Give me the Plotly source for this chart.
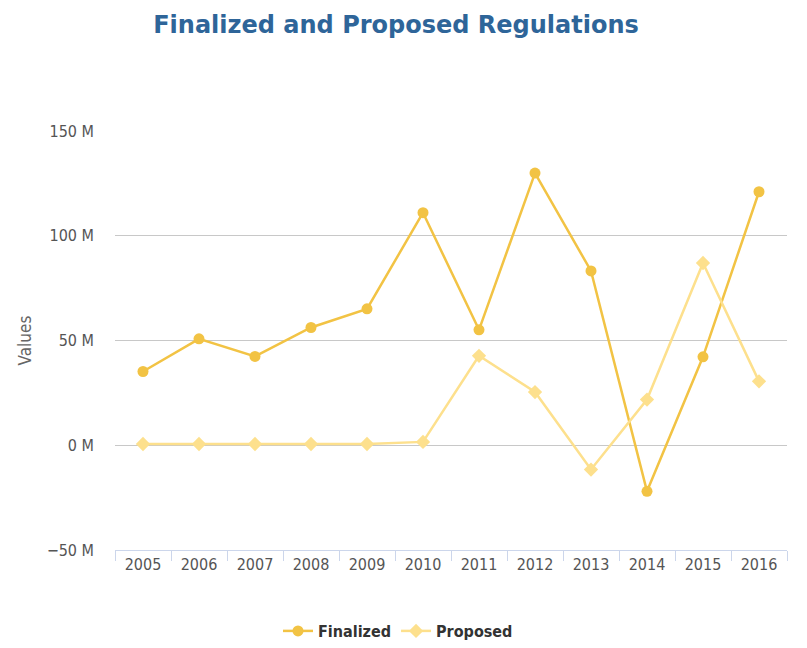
import plotly.graph_objects as go

years = ["2005", "2006", "2007", "2008", "2009", "2010", "2011", "2012", "2013", "2014", "2015", "2016"]
finalized = [35.2, 50.8, 42.4, 56.2, 65.1, 111.0, 55.1, 129.9, 83.2, -22.0, 42.2, 121.0]
proposed = [0.6, 0.6, 0.6, 0.6, 0.6, 1.6, 42.7, 25.4, -11.6, 21.8, 87.0, 30.5]
y_ticks = [-50, 0, 50, 100, 150]
y_tick_labels = ["−50 M", "0 M", "50 M", "100 M", "150 M"]

FIN_COLOR = "#f2c344"
PRO_COLOR = "#fde08d"
LABEL_FONT = "DejaVu Sans Condensed, Liberation Sans Narrow, Roboto Condensed, sans-serif"

# page body has an 8px margin; compensate so plot area lands at the reference position
OFF = 8
W, H = 807, 648

fig = go.Figure()
fig.add_trace(go.Scatter(
    x=years, y=finalized, name="Finalized", mode="lines+markers",
    line=dict(color=FIN_COLOR, width=2.5),
    marker=dict(symbol="circle", size=11, color=FIN_COLOR),
))
fig.add_trace(go.Scatter(
    x=years, y=proposed, name="Proposed", mode="lines+markers",
    line=dict(color=PRO_COLOR, width=2.5),
    marker=dict(symbol="diamond", size=11, color=PRO_COLOR),
))

fig.update_layout(
    width=W, height=H,
    margin=dict(l=115 - OFF, r=W + OFF - 787, t=131 - OFF, b=H + OFF - 550),
    paper_bgcolor="white", plot_bgcolor="white",
    title=dict(
        text="<b>Finalized and Proposed Regulations</b>",
        font=dict(family="DejaVu Sans, sans-serif", size=24, color="#2e6599"),
        x=(396 - OFF) / W, xref="container", xanchor="center",
        y=1 - 17 / H, yref="container", yanchor="middle",
    ),
    showlegend=True,
    legend=dict(
        orientation="h", x=(398 - OFF) / W, xref="container", xanchor="center",
        y=1 - (631 - OFF) / H, yref="container", yanchor="middle",
        font=dict(family=LABEL_FONT, size=16, color="#333333", weight="bold"),
        itemwidth=30,
    ),
    xaxis=dict(
        type="category", range=[-0.5, 11.5],
        showline=True, linecolor="#ccd6eb", linewidth=1,
        ticks="outside", tickson="boundaries", ticklen=10, tickcolor="#ccd6eb",
        showgrid=False, zeroline=False,
        tickfont=dict(family=LABEL_FONT, size=16, color="#555555"),
    ),
    yaxis=dict(
        range=[-50, 150], tickvals=y_ticks, ticktext=y_tick_labels,
        showgrid=True, gridcolor="#c8c8c8", gridwidth=1, zeroline=False,
        showline=False, ticks="", ticklabelstandoff=20,
        tickfont=dict(family=LABEL_FONT, size=16, color="#555555"),
        title=dict(text="Values", standoff=10,
                   font=dict(family=LABEL_FONT, size=17, color="#666666")),
    ),
    hovermode="x",
)

fig.write_html("out.html")
